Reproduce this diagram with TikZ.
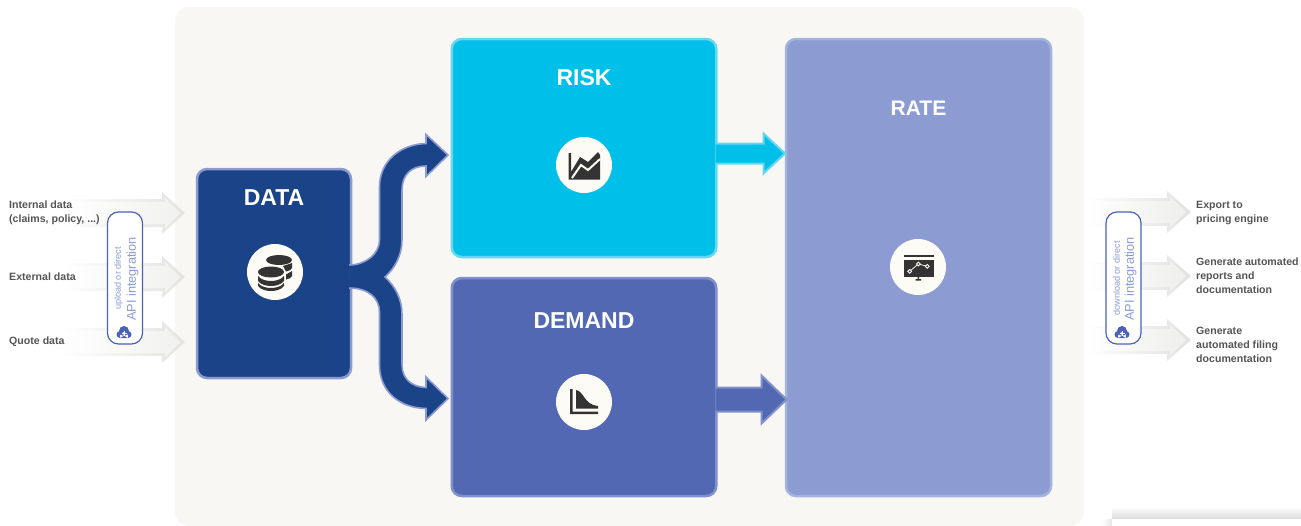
\documentclass[tikz,border=0pt]{standalone}
\usepackage{fontspec}
\setmainfont{Liberation Sans}
\usetikzlibrary{calc,%
		positioning}
\definecolor{panelbg}{HTML}{F8F7F4}
\definecolor{datafill}{HTML}{1B4488}
\definecolor{dataedge}{HTML}{8B9BD0}
\definecolor{riskfill}{HTML}{00C0EA}
\definecolor{riskedge}{HTML}{66D7F0}
\definecolor{demandfill}{HTML}{5368B2}
\definecolor{demandedge}{HTML}{8090CC}
\definecolor{ratefill}{HTML}{8C9BD2}
\definecolor{rateedge}{HTML}{A2B3DE}
\definecolor{iconbg}{HTML}{FDFBF5}
\definecolor{icondark}{HTML}{333333}
\definecolor{apiedge}{HTML}{4A62B8}
\definecolor{apitext}{HTML}{8A9CD6}
\definecolor{sidetext}{HTML}{555555}
\definecolor{graya}{HTML}{E3E3E1}
\definecolor{grayb}{HTML}{F1F1EF}
\definecolor{grayc}{HTML}{E1E1DF}
\definecolor{grayd}{HTML}{EEEEEC}
\tikzset{
  blockbox/.style={rectangle,rounded corners=10pt,line width=2.5pt,inner sep=0pt},
  blocktitle/.style={text=white,font=\fontsize{23}{23}\selectfont\bfseries,inner sep=0pt},
  iconcircle/.style={circle,fill=iconbg,minimum size=56pt,inner sep=0pt},
  apibox/.style={rectangle,rounded corners=11pt,draw=apiedge,line width=1.2pt,fill=white,minimum width=35pt,minimum height=132pt,inner sep=0pt},
  apibig/.style={rotate=90,text=apitext,font=\fontsize{12.8}{12.8}\selectfont,inner sep=0pt},
  apismall/.style={rotate=90,text=apitext,font=\fontsize{9.1}{9.1}\selectfont,inner sep=0pt},
  sidelabel/.style={anchor=west,align=left,text=sidetext,font=\fontsize{10.6}{14.2}\selectfont\bfseries,inner sep=0pt},
}
% x0, head back, tip, y, outer colour, inner colour
\newcommand{\grayarrow}[6]{%
  \shade[left color=white,right color=#5] (#1,#4-14) -- (#2,#4-14) -- (#2,#4-21) -- (#3,#4) -- (#2,#4+21) -- (#2,#4+14) -- (#1,#4+14) -- cycle;
  \shade[left color=white,right color=#6] (#1,#4-11) -- (#2+3,#4-11) -- (#2+3,#4-15.5) -- (#3-4.5,#4) -- (#2+3,#4+15.5) -- (#2+3,#4+11) -- (#1,#4+11) -- cycle;
}
\newcommand{\cloudicon}[1]{%
  \begin{scope}[shift={(#1)}]
    \fill[apiedge] (-4,2.5) circle (3.5) (4,2.5) circle (3.5) (0,-1) circle (5) (-4,0) rectangle (4,6);
    \draw[white,line width=1pt] (-2.5,1) -- (2.5,1) (0,-1.5) -- (0,3.5);
  \end{scope}%
}
\begin{document}
\begin{tikzpicture}[x=1pt,y=-1pt]
  \useasboundingbox (0,0) rectangle (1301,525);
  \begin{scope}
    \clip (0,0) rectangle (1301,525);
    \fill[panelbg,rounded corners=14pt] (175,7) rectangle (1084,526);%il pannello
    \shade[top color=white,bottom color=black!14] (1112,507) rectangle (1301,519);
    \shade[left color=white,right color=black!10] (1102,519) rectangle (1112,525);
    \fill[white] (1112,519) rectangle (1301,525);
  \end{scope}

  \grayarrow{60}{162}{185}{213}{graya}{grayb}
  \grayarrow{60}{162}{185}{277}{graya}{grayb}
  \grayarrow{60}{162}{185}{342}{graya}{grayb}
  \grayarrow{1085}{1167}{1191}{212}{grayc}{grayd}
  \grayarrow{1085}{1167}{1191}{276}{grayc}{grayd}
  \grayarrow{1085}{1167}{1191}{340}{grayc}{grayd}

  \node[blockbox,fill=datafill,draw=dataedge,minimum width=154pt,minimum height=209pt] (data) at (274,273.5) {};
  \node[blockbox,fill=riskfill,draw=riskedge,minimum width=264.5pt,minimum height=218pt] (risk) at (584,148) {};
  \node[blockbox,fill=demandfill,draw=demandedge,minimum width=264.5pt,minimum height=218pt] (demand) at (584,387) {};
  \node[blockbox,fill=ratefill,draw=rateedge,minimum width=265pt,minimum height=457pt] (rate) at (918.5,267.5) {};

  \coordinate (riskout) at (risk.east |- 0,153.5);%uscita di risk
  \coordinate (demandout) at (demand.east |- 0,399.5);%uscita di demand
  \coordinate (dataout) at (data.east |- 0,276.5);%uscita di data
  \filldraw[fill=riskfill,draw=riskedge,line width=2pt] (riskout) ++(-2,-10) -- ++(48,0) -- ++(0,-10) -- ++(21.5,20) -- ++(-21.5,20) -- ++(0,-10) -- ++(-48,0);
  \filldraw[fill=demandfill,draw=demandedge,line width=2pt] (demandout) ++(-2,-12) -- ++(46,0) -- ++(0,-12) -- ++(25,24) -- ++(-25,24) -- ++(0,-12) -- ++(-46,0);
  \filldraw[fill=datafill,draw=dataedge,line width=1.6pt,line join=miter] (dataout) ++(-3,-11.5)
    .. controls +(16,0) and (379.5,254) .. (379.5,240) -- (379.5,187)
    .. controls (379.5,160) and (402,144) .. (426,143.5) -- (426,134.5) -- (448,155) -- (426,176.5) -- (426,166)
    .. controls (411,166) and (402,175) .. (402,190) -- (402,240)
    .. controls (402,255) and (395,268) .. (385,277)
    .. controls (395,286) and (402,299) .. (402,314) -- (402,365)
    .. controls (402,378) and (411,387) .. (426,387.5) -- (426,377) -- (448,398.5) -- (426,420) -- (426,408.5)
    .. controls (400,408) and (379.5,392) .. (379.5,365) -- (379.5,312)
    .. controls (379.5,298) and (368,288) .. ($(dataout)+(-3,11.5)$);

  \node[blocktitle] (datatitle) at (274,197.5) {DATA};
  \node[blocktitle] (risktitle) at (584,77.5) {RISK};
  \node[blocktitle] (demandtitle) at (584,320.5) {DEMAND};
  \node[blocktitle,font=\fontsize{21}{21}\selectfont\bfseries] (ratetitle) at (918.5,108.5) {RATE};

  \node[iconcircle] (dataicon) at (275,272) {};
  \node[iconcircle] (riskicon) at (584,165) {};
  \node[iconcircle] (demandicon) at (584,402) {};
  \node[iconcircle] (rateicon) at (918,267) {};

  % monete
  \fill[icondark] (279,260) ellipse (13 and 5);
  \fill[icondark] (283,266) -- (292,263) -- (292,268) .. controls (291,270) and (289,271) .. (286,271.5) -- cycle;
  \fill[icondark] (286,274.5) -- (292,271) -- (292,276) .. controls (291,278) and (289,279) .. (286,279.5) -- cycle;
  \fill[icondark] (271,272) ellipse (13 and 5.5);
  \fill[icondark] (258,276) .. controls (261,280) and (267,281) .. (271,281) .. controls (275,281) and (281,280) .. (284,276) -- (284,281) .. controls (281,285) and (275,286) .. (271,286) .. controls (267,286) and (261,285) .. (258,281) -- cycle;
  \fill[icondark] (258,283) .. controls (261,287) and (267,288) .. (271,288) .. controls (275,288) and (281,287) .. (284,283) -- (284,286) .. controls (281,290) and (275,291) .. (271,291) .. controls (267,291) and (261,290) .. (258,286) -- cycle;
  % grafico risk
  \fill[icondark] (568.5,153) -- (571,153) -- (571,172) -- (580,157) -- (588,162) -- (598,152) -- (600,155) -- (600,179.5) -- (568.5,179.5) -- cycle;
  \draw[iconbg,line width=2pt] (572,178) -- (581,165) -- (588,170) -- (600,159);
  % grafico demand
  \fill[icondark] (570,389) -- (572.5,389) -- (572.5,411.5) -- (598,411.5) -- (598,414) -- (570,414) -- cycle;
  \fill[icondark] (576,390) .. controls (584,391) and (584,405) .. (598,406) -- (598,408.7) -- (576,408.7) -- cycle;
  % schermo rate
  \fill[icondark] (904,254.7) rectangle (933.5,257.3);
  \fill[icondark] (904,259.7) rectangle (933.5,277.3);
  \fill[icondark] (917.5,277) rectangle (919,279.5) (915.5,279) rectangle (921,280.5);
  \draw[iconbg,line width=0.8pt] (909.7,271.3) -- (918.3,264) -- (927.3,266.3);
  \filldraw[draw=iconbg,fill=icondark,line width=0.9pt] (909.7,271.3) circle (1.9) (918.3,264) circle (1.9) (927.3,266.3) circle (1.9);

  \node[apibox] (apileft) at (125,278) {};
  \node[apibox] (apiright) at (1123.5,278) {};
  \node[apismall] (apileftsmall) at (118.5,278.5) {upload or direct};
  \node[apibig] (apileftbig) at (132.5,279) {API integration};
  \node[apismall] (apirightsmall) at (1116.5,278.5) {download or direct};
  \node[apibig] (apirightbig) at (1130.5,279) {API integration};
  \cloudicon{124,332}
  \cloudicon{1122,332}

  \node[sidelabel] (internal) at (9,213) {Internal data\\(claims, policy, ...)};
  \node[sidelabel] (external) at (9,276.5) {External data};
  \node[sidelabel] (quote) at (9,341.5) {Quote data};
  \node[sidelabel] (export) at (1196,213) {Export to\\pricing engine};
  \node[sidelabel] (reports) at (1196,276) {Generate automated\\reports and\\documentation};
  \node[sidelabel] (filing) at (1196,345) {Generate\\automated filing\\documentation};
\end{tikzpicture}
\end{document}
